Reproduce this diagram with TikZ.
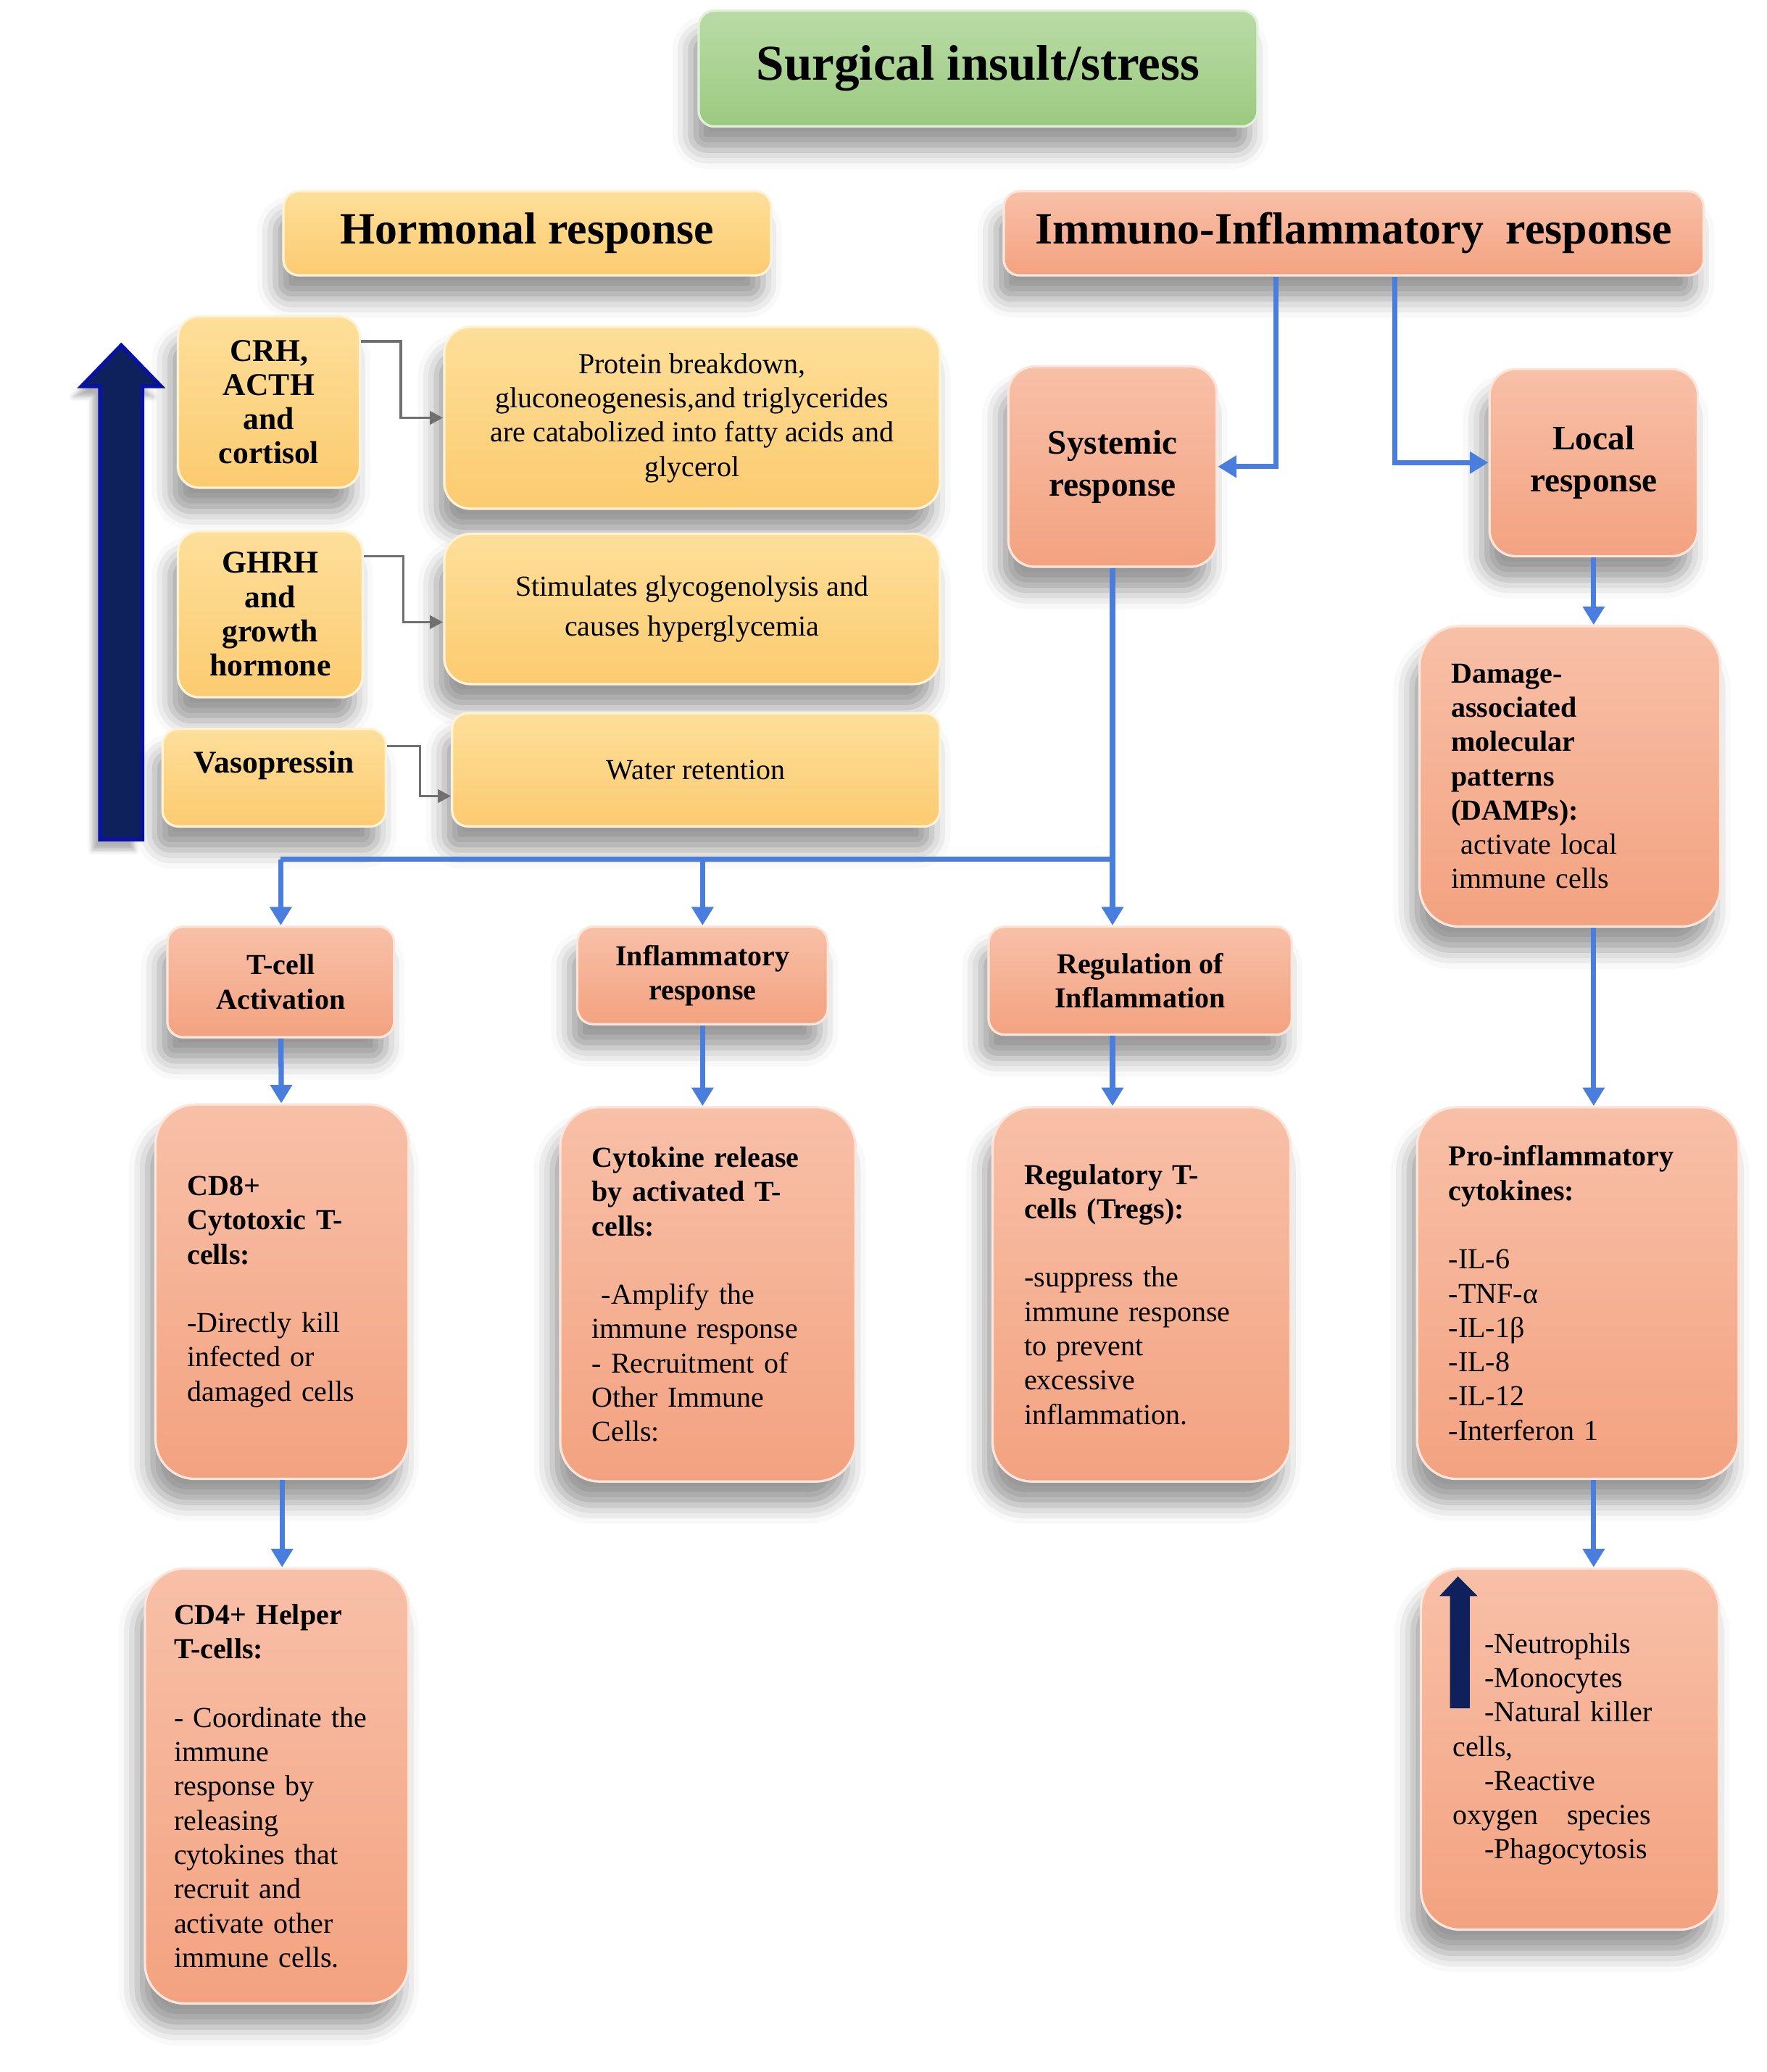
\documentclass[tikz,border=0pt]{standalone}
\usepackage{fontspec}
\setmainfont{Liberation Serif}
\usetikzlibrary{arrows.meta,shadows.blur}
\definecolor{greentop}{RGB}{185,219,166}
\definecolor{greenbot}{RGB}{156,202,128}
\definecolor{yellowtop}{RGB}{253,223,154}
\definecolor{yellowbot}{RGB}{252,203,112}
\definecolor{salmontop}{RGB}{248,192,168}
\definecolor{salmonbot}{RGB}{243,162,128}
\definecolor{flowblue}{RGB}{74,126,222}
\definecolor{deepnavy}{RGB}{14,33,92}
\definecolor{linkgray}{RGB}{112,112,112}

\begin{document}
\begin{tikzpicture}[x=0.5pt,y=-0.5pt,
    box/.style={rounded corners=#1, line width=0.9pt, inner xsep=12pt, inner ysep=0pt, align=center,
        blur shadow={shadow xshift=-3pt, shadow yshift=-9pt, shadow opacity=40, shadow blur radius=7pt}},
    box/.default=6pt,
    gbox/.style={box=6pt, top color=greentop, bottom color=greenbot, draw=greentop!40!white},
    ybox/.style={box=#1, top color=yellowtop, bottom color=yellowbot, draw=yellowtop!40!white},
    ybox/.default=6pt,
    obox/.style={box=#1, top color=salmontop, bottom color=salmonbot, draw=salmontop!40!white},
    obox/.default=6pt,
    headfont/.style={font=\fontsize{17}{20}\selectfont\bfseries},
    keyfont/.style={font=\fontsize{12}{13}\selectfont\bfseries},
    bodyfont/.style={font=\fontsize{11}{13}\selectfont},
    flow/.style={flowblue, line width=2pt, -{Triangle[length=7pt,width=8pt]}},
    bus/.style={flowblue, line width=2pt},
    link/.style={linkgray, line width=1pt, -{Triangle[length=5pt,width=5pt]}}]

    \useasboundingbox (0,0) rectangle (1340,1572);

    % top of the chart
    \node[gbox, minimum width=212pt, minimum height=44pt, font=\fontsize{19}{22}\selectfont\bfseries] (insult) at (742,52) {Surgical insult/stress};
    \node[ybox, headfont, minimum width=185pt, minimum height=32pt] (hormonal) at (400,177) {Hormonal response};
    \node[obox, headfont, minimum width=262pt, minimum height=32pt] (immuno) at (1027,177) {Immuno-Inflammatory\ \ response};

    % hormonal side
    \fill[deepnavy, draw=blue!45!deepnavy, line width=1.5pt,
        blur shadow={shadow xshift=-3pt, shadow yshift=-4pt, shadow opacity=30}]
        (76,637) -- (76,293) -- (62,293) -- (92,262) -- (122,293) -- (108,293) -- (108,637) -- cycle;

    \node[ybox=8pt, keyfont, minimum width=69pt, minimum height=65pt] (crh) at (204,305) {CRH,\\ACTH\\and\\cortisol};
    \node[ybox=10pt, bodyfont, minimum width=188pt, minimum height=69pt] (protein) at (525,317) {Protein breakdown,\\gluconeogenesis,and triglycerides\\are catabolized into fatty acids and\\glycerol};
    \node[ybox=8pt, keyfont, minimum width=70pt, minimum height=63pt] (ghrh) at (205,466) {GHRH\\and\\growth\\hormone};
    \node[ybox=10pt, font=\fontsize{11}{15}\selectfont, minimum width=188pt, minimum height=57pt] (glyco) at (525,462) {Stimulates glycogenolysis and\\causes hyperglycemia};
    \node[ybox, keyfont, minimum width=81pt, minimum height=37pt] (vaso) at (208,590) {Vasopressin\\[-1pt]};
    \node[ybox, bodyfont, minimum width=185pt, minimum height=43pt] (water) at (528,584) {Water retention};

    \draw[link] ([yshift=-10pt]crh.north east) -- ++(30,0) |- (protein);
    \draw[link] ([yshift=-10pt]ghrh.north east) -- ++(30,0) |- ([yshift=-5pt]glyco.west);
    \draw[link] ([yshift=-7pt]vaso.north east) -- ++(25,0) |- ([yshift=-10pt]water.west);

    % immuno side
    \node[obox=10pt, font=\fontsize{13}{16}\selectfont\bfseries, minimum width=79pt, minimum height=76pt] (systemic) at (844,354) {Systemic\\response};
    \node[obox=10pt, font=\fontsize{13}{16}\selectfont\bfseries, minimum width=79pt, minimum height=71pt] (local) at (1209,351) {Local\\response};

    \draw[flow] ([xshift=-29.5pt]immuno.south) |- (systemic);
    \draw[flow] ([xshift=15.5pt]immuno.south) |- (local);

    \node[obox=15pt, bodyfont, align=left, minimum width=114pt, minimum height=114pt, text width=90pt] (damps) at (1191,589)
        {\textbf{Damage-\\associated\\molecular\\patterns\\(DAMPs):}\\\ activate local\\immune cells};
    \node[obox=15pt, bodyfont, align=left, minimum width=122pt, minimum height=141pt, text width=98pt] (proinf) at (1197,981)
        {\textbf{Pro-inflammatory\\cytokines:}\\[13pt]-IL-6\\-TNF-α\\-IL-1β\\-IL-8\\-IL-12\\-Interferon 1};
    \node[obox=15pt, bodyfont, align=left, minimum width=113pt, minimum height=137pt, text width=89pt] (recruit) at (1191,1327)
        {\hspace*{1.1em}-Neutrophils\\\hspace*{1.1em}-Monocytes\\\hspace*{1.1em}-Natural killer\\cells,\\\hspace*{1.1em}-Reactive\\oxygen\ \ \ species\\\hspace*{1.1em}-Phagocytosis\\[26pt]};
    \fill[deepnavy] (1100,1296) -- (1100,1211) -- (1092,1211) -- (1106,1196) -- (1121,1211) -- (1115,1211) -- (1115,1296) -- cycle;

    \draw[flow] (local.south) -- (local.south |- damps.north);
    \draw[flow] (local.south |- damps.south) -- (local.south |- proinf.north);
    \draw[flow] (local.south |- proinf.south) -- (local.south |- recruit.north);

    % lower row
    \node[obox, font=\fontsize{11}{13}\selectfont\bfseries, minimum width=86pt, minimum height=42pt] (tcell) at (213,745) {T-cell\\Activation};
    \node[obox, font=\fontsize{11}{13}\selectfont\bfseries, minimum width=95pt, minimum height=37pt] (inflam) at (533,740) {Inflammatory\\response};
    \node[obox, font=\fontsize{11}{13}\selectfont\bfseries, minimum width=115pt, minimum height=41pt] (regul) at (865,744) {Regulation of\\Inflammation};

    \coordinate (split) at (844,652);
    \draw[flow] (systemic.south) -- (systemic.south |- regul.north);
    \draw[bus] (split) -- (split -| tcell);
    \draw[flow] (split -| tcell) -- (tcell);
    \draw[flow] (split -| inflam) -- (inflam);

    \node[obox=15pt, bodyfont, align=left, minimum width=96pt, minimum height=142pt, text width=72pt] (cdeight) at (214,980)
        {\textbf{CD8+\\Cytotoxic T-\\cells:}\\[13pt]-Directly kill\\infected or\\damaged cells\\[26pt]};
    \node[obox=15pt, bodyfont, align=left, minimum width=112pt, minimum height=142pt, text width=88pt] (cytokine) at (537,982)
        {\textbf{Cytokine release\\by activated T-\\cells:}\\[13pt]\ -Amplify the\\immune response\\- Recruitment of\\Other Immune\\Cells:};
    \node[obox=15pt, bodyfont, align=left, minimum width=113pt, minimum height=142pt, text width=89pt] (tregs) at (866,982)
        {\textbf{Regulatory T-\\cells (Tregs):}\\[13pt]-suppress the\\immune response\\to prevent\\excessive\\inflammation.\\[13pt]};
    \node[obox=15pt, bodyfont, align=left, minimum width=100pt, minimum height=165pt, text width=78pt, inner xsep=11pt] (cdfour) at (210,1355)
        {\textbf{CD4+ Helper\\T-cells:}\\[13pt]- Coordinate the\\immune\\response by\\releasing\\cytokines that\\recruit and\\activate other\\immune cells.};

    \draw[flow] (tcell) -- (cdeight);
    \draw[flow] (inflam.south) -- (inflam.south |- cytokine.north);
    \draw[flow] (regul.south -| systemic.south) -- (systemic.south |- tregs.north);
    \draw[flow] (cdeight) -- (cdeight.north |- cdfour.north);
\end{tikzpicture}
\end{document}
